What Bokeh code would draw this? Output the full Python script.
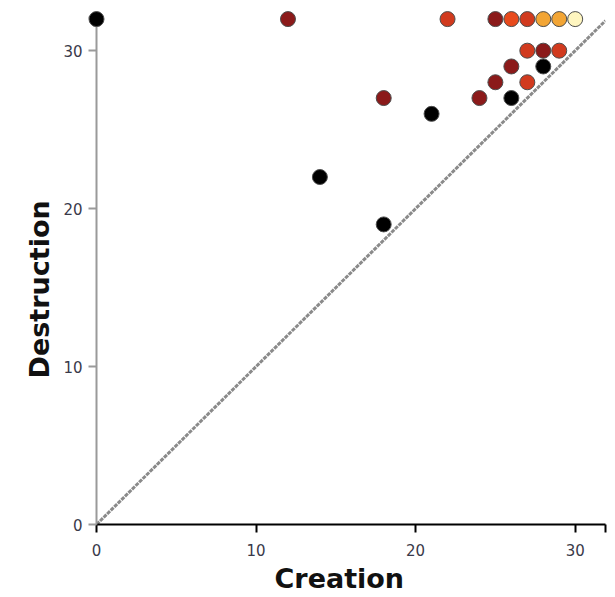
from bokeh.plotting import figure
from bokeh.models import Range1d, FixedTicker, Title, ColumnDataSource
from bokeh.transform import linear_cmap
from bokeh.embed import file_html
from bokeh.resources import INLINE

# ---- data ----
creation = [0, 12, 22, 25, 26, 27, 28, 29, 30, 27, 28, 29, 26, 28, 25, 27, 24, 26, 18, 21, 14, 18]
destruction = [32, 32, 32, 32, 32, 32, 32, 32, 32, 30, 30, 30, 29, 29, 28, 28, 27, 27, 27, 26, 22, 19]
level = [0, 1, 2, 1, 3, 2, 4, 4, 5, 2, 1, 2, 1, 0, 1, 2, 1, 0, 1, 0, 0, 0]
palette = ["#000000", "#8b1a1a", "#d13a1e", "#e84a1c", "#f2a535", "#fff6c0"]
x_ticks = [0, 10, 20, 30]
x_tick_labels = ["0", "10", "20", "30"]
y_ticks = [0, 10, 20, 30]
y_tick_labels = ["0", "10", "20", "30"]
x_max = 31.9
y_max = 32.1

src = ColumnDataSource(dict(x=creation, y=destruction, level=level))

p = figure(width=615, height=597,
           x_range=Range1d(0, x_max), y_range=Range1d(0, y_max),
           output_backend="svg", toolbar_location=None,
           min_border_left=96, min_border_right=10,
           min_border_top=17, min_border_bottom=73)
p.grid.visible = False
p.outline_line_color = None
p.background_fill_color = "white"
p.border_fill_color = "white"

# x axis
p.xaxis.ticker = FixedTicker(ticks=x_ticks + [x_max])
ov = {t: l for t, l in zip(x_ticks, x_tick_labels)}
ov[x_max] = ""
p.xaxis.major_label_overrides = ov
p.xaxis.axis_line_color = "black"
p.xaxis.axis_line_width = 2
p.xaxis.major_tick_line_color = "black"
p.xaxis.major_tick_line_width = 2
p.xaxis.major_tick_out = 8
p.xaxis.major_tick_in = 0
p.xaxis.minor_tick_line_color = None
p.xaxis.major_label_standoff = 11

# y axis
p.yaxis.ticker = FixedTicker(ticks=y_ticks + [y_max])
ovy = {t: l for t, l in zip(y_ticks, y_tick_labels)}
ovy[y_max] = ""
p.yaxis.major_label_overrides = ovy
p.yaxis.axis_line_color = "#9a9a9a"
p.yaxis.axis_line_width = 2
p.yaxis.major_tick_line_color = "#9a9a9a"
p.yaxis.major_tick_line_width = 2
p.yaxis.major_tick_out = 8
p.yaxis.major_tick_in = 0
p.yaxis.minor_tick_line_color = None
p.yaxis.major_label_standoff = 6

for ax in (p.xaxis, p.yaxis):
    ax.major_label_text_font = "DejaVu Sans"
    ax.major_label_text_font_size = "15px"
    ax.major_label_text_color = "#3a3a4a"

# axis titles
tx = Title(text="Creation", align="left", offset=178, standoff=4,
           text_font="DejaVu Sans", text_font_size="27px",
           text_font_style="bold", text_color="#111111")
p.add_layout(tx, "below")
ty = Title(text="Destruction", align="left", offset=146, standoff=12,
           text_font="DejaVu Sans", text_font_size="27px",
           text_font_style="bold", text_color="#111111")
p.add_layout(ty, "left")

# diagonal reference line
p.line([0, x_max], [0, x_max], line_color="#8a8a8a", line_width=3, line_dash="4 1")

# points
p.scatter("x", "y", source=src, size=15,
          fill_color=linear_cmap("level", palette, 0, 5),
          line_color="#4d4d4d", line_width=1, level="overlay")

open("out.html", "w").write(file_html(p, INLINE))
